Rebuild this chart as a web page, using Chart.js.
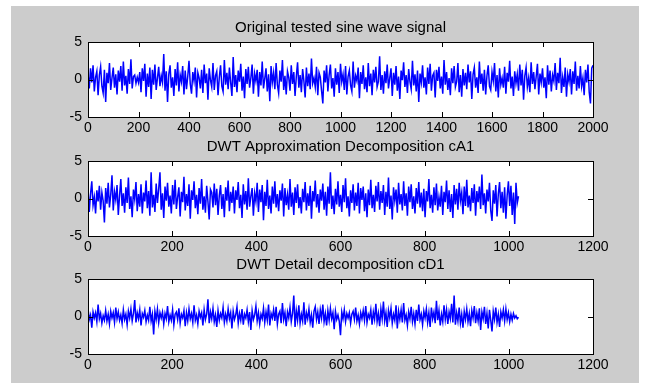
<!DOCTYPE html>
<html>
<head>
<meta charset="utf-8">
<script src="https://cdn.jsdelivr.net/npm/chart.js@4/dist/chart.umd.min.js"></script>
<style>
  body { margin: 0; background: #fff; }
  #fig { position: absolute; left: 11px; top: 6px; width: 628px; height: 377px; background: #cccccc; }
  canvas { position: absolute; left: 0; }
</style>
</head>
<body>
<div id="fig"></div>
<canvas id="c1" width="645" height="140" style="top:2px"></canvas>
<canvas id="c2" width="645" height="140" style="top:121px"></canvas>
<canvas id="c3" width="645" height="140" style="top:239px"></canvas>
<script>
'use strict';

// titles of the three subplots
let titles = ['Original tested sine wave signal', 'DWT Approximation Decomposition cA1', 'DWT Detail decomposition cD1'];

// axis ticks
let xTicksTop = [0, 200, 400, 600, 800, 1000, 1200, 1400, 1600, 1800, 2000];
let xTicksDwt = [0, 200, 400, 600, 800, 1000, 1200];
let yTicks = [-5, 0, 5];

// sample spacing used when reading the traces off the picture
let stepTop = 5;
let stepDwt = 3;

// original signal, read every 5 samples (0..2000)
let signal = [
  0.8, -1.2, 1.5, -0.4, 1.9, -1.6, 0.3, 1.1, -2.1, 0.6,
  1.7, -0.9, -1.8, 1.3, -3.0, 0.9, -0.5, 2.2, -1.4, 0.2,
  1.6, -1.1, 0.7, -2.0, 1.2, -0.3, 1.8, -1.5, 2.4, -0.8,
  0.5, -1.9, 1.4, -0.6, 2.7, -1.2, 0.4, 0.6, -0.5, 0.3,
  -0.4, 1.0, -1.7, 1.5, -0.2, 2.1, -2.3, 0.8, -1.0, 1.6,
  -2.6, 1.3, -0.7, 2.0, -1.4, 0.2, 1.7, -0.9, 0.5, -0.4,
  3.4, -1.5, 1.1, -3.0, 0.7, 1.9, -1.1, 0.3, -2.2, 1.4,
  -0.8, 2.3, -1.6, 0.6, -0.3, 1.8, -2.0, 1.2, -1.3, 0.4,
  2.5, -0.6, -1.9, 1.0, -0.2, 1.6, -2.4, 0.9, 0.2, -1.2,
  1.3, -1.8, 2.0, -0.5, 0.8, -2.7, 1.5, -0.1, -1.0, 2.2,
  -1.4, 0.5, 1.1, -2.1, 0.3, 1.9, -0.9, -1.6, 2.6, -0.7,
  0.9, -1.3, 1.6, -0.4, -2.2, 3.0, -1.0, 0.6, -1.7, 1.2,
  -0.3, 2.1, -1.5, 0.4, -2.5, 1.4, -0.6, 1.7, -1.1, 0.2,
  2.0, -1.9, 0.8, -0.2, 1.3, -2.3, 1.0, -0.8, 2.4, -1.2,
  0.1, 1.5, -1.6, 0.7, -2.9, 1.8, -0.4, 0.9, -1.3, 2.2,
  -0.7, -1.8, 1.2, -0.3, 2.6, -1.4, 0.5, -2.0, 1.1, 0.3,
  -1.5, 1.9, -0.6, 1.0, -2.2, 0.4, 2.3, -1.1, 0.6, -1.7,
  1.4, -0.2, -2.4, 1.6, -0.9, 0.8, -1.3, 2.8, -0.5, 0.2,
  -1.0, 1.7, -2.1, 0.9, 0.3, -1.5, -3.2, 1.2, -0.4, 1.9,
  -1.6, 0.6, 2.0, -1.2, 0.2, -2.3, 1.5, -0.7, 1.0, -1.8,
  2.1, -0.3, 0.7, -1.4, 1.8, -2.0, 0.4, 1.2, -0.8, -1.6,
  2.4, -1.1, 0.5, -0.2, 1.6, -2.5, 1.0, -0.6, 1.9, -1.3,
  0.3, -1.7, 2.2, -0.9, 0.8, -2.1, 1.3, -0.4, 1.7, -1.0,
  -0.3, 3.1, -1.4, 0.6, -1.9, 1.1, -0.5, 2.0, -1.2, 0.2,
  1.5, -2.2, 0.9, -0.7, 1.8, -1.5, 0.4, -2.6, 1.2, -0.1,
  2.3, -1.0, 0.6, -1.8, 1.4, -0.3, -1.3, 2.5, -0.8, 0.7,
  -1.6, 1.2, -3.0, 0.8, -0.4, 1.9, -1.1, 0.3, -2.0, 1.6,
  -0.6, 2.1, -1.5, 0.5, 0.9, -2.4, 1.3, -0.2, 1.7, -1.2,
  0.4, -1.9, 2.6, -0.7, 1.0, -1.4, 0.2, -2.1, 1.5, -0.5,
  1.8, -1.0, -0.3, 2.2, -1.7, 0.6, -2.3, 1.4, -0.8, 0.9,
  -1.3, 2.0, -0.4, 1.1, -2.6, 0.7, 1.6, -1.1, 0.3, -1.8,
  2.4, -0.6, 0.8, -1.5, 1.3, -2.0, 0.5, 1.9, -0.9, -1.4,
  1.0, -0.2, 2.2, -1.6, 0.6, -2.4, 1.5, -0.7, 0.2, -1.1,
  1.7, -1.9, 0.9, -0.3, 2.5, -1.2, 0.4, -2.2, 1.1, -0.5,
  0.7, -1.5, 2.0, -0.8, 1.3, -2.7, 0.5, 1.6, -1.0, 0.2,
  -1.7, 2.3, -0.6, 1.0, -1.3, 0.4, 2.1, -2.0, 0.8, -0.4,
  1.5, -1.1, 0.3, -2.5, 1.9, -0.7, 1.2, -1.6, 0.6, -0.2,
  2.2, -1.4, 0.9, -0.5, 2.9, -1.8, 0.3, -1.0, 1.6, -2.3,
  0.7, -0.3, 1.4, -2.0, 1.1, -0.6, 2.4, -1.5, 0.5, -1.2,
  1.8, -0.9, 0.2, -2.1, 1.3, -0.4, 2.0, -1.7, -3.2, 1.5,
  1.9
];

// approximation coefficients cA1, read every 3 samples (0..1023)
let cA1 = [
  1.3, -1.8, 0.6, 2.3, -0.9, 0.2, -2.0, 1.1, -0.4, 1.7,
  -1.5, 0.8, -0.3, -3.2, 1.4, -0.7, 2.1, -1.2, 0.5, 3.1,
  -1.6, 0.9, -0.2, 1.8, -2.2, 0.4, 2.6, -1.0, 0.7, -1.9,
  1.5, -0.6, 2.8, -1.4, 0.3, -2.5, 1.2, -0.1, 2.2, -1.7,
  0.6, -1.1, 1.9, -2.0, 0.8, -0.4, 2.4, -1.3, 1.0, -2.3,
  3.5, -1.2, 0.5, -1.8, 2.0, -0.6, 1.3, 3.5, -1.5, 0.7,
  -2.6, 1.6, -0.3, 2.1, -1.1, 0.4, -2.0, 1.8, -0.8, 2.5,
  -1.4, 0.2, 1.5, -2.4, 0.9, -0.5, 2.9, -1.6, 0.6, -1.0,
  1.9, -2.7, 1.1, -0.2, 2.3, -1.3, 0.5, -2.1, 1.4, -0.7,
  2.6, -1.5, 0.3, -1.9, 1.7, -0.4, -2.8, 1.2, 0.8, -1.2,
  2.0, -0.9, 1.3, -2.2, 0.4, 1.8, -1.4, 0.6, -2.5, 1.5,
  -0.3, 2.4, -1.7, 0.9, -0.6, 1.6, -2.0, 1.1, -0.2, 2.2,
  -1.3, 0.5, -2.6, 1.9, -0.8, 1.0, -1.5, 2.7, -1.1, 0.3,
  1.4, -2.3, 0.7, -0.4, 2.1, -1.8, 1.2, -0.5, 1.8, -2.9,
  0.9, -1.0, 2.5, -1.4, 0.4, -2.0, 1.6, -0.7, 2.3, -1.2,
  0.6, -1.7, 1.1, -0.3, 2.0, -2.4, 1.4, -0.9, 0.5, -1.5,
  2.6, -1.1, 0.8, -2.2, 1.5, -0.6, 1.9, -1.3, 0.2, -2.0,
  1.3, -0.5, 2.2, -1.6, 0.7, -1.0, 1.7, -2.7, 1.0, -0.4,
  2.4, -1.2, 0.6, -1.9, 1.2, -0.3, 2.0, -1.5, 0.9, -2.3,
  1.6, -0.7, 3.5, -1.4, 0.4, -2.1, 1.3, -0.8, 2.3, -1.1,
  0.5, -1.8, 1.8, -0.5, 2.7, -1.3, 0.3, -2.4, 1.1, -0.6,
  1.9, -1.6, 0.8, -1.0, 2.1, -2.0, 1.4, -0.2, 1.6, -1.7,
  0.7, -2.5, 1.2, -0.9, 2.5, -1.3, 0.5, -1.8, 1.7, -0.4,
  2.2, -1.5, 1.0, -0.6, 1.8, -2.2, 0.9, -1.1, 2.8, -1.4,
  0.4, -2.8, 1.5, -0.3, 1.2, -1.9, 2.1, -0.8, 0.6, -1.6,
  2.3, -1.0, 0.7, -2.3, 1.6, -0.5, 1.9, -1.4, 0.3, -2.0,
  1.4, -0.7, 2.2, -1.2, 0.8, -1.7, 1.3, -2.5, 1.0, -0.4,
  2.6, -1.3, 0.5, -1.9, 1.5, -0.9, 2.0, -1.6, 0.2, -1.1,
  1.7, -2.2, 0.9, -0.5, 2.4, -1.4, 1.1, -1.8, 0.6, -2.6,
  1.8, -0.8, 1.3, -1.5, 2.1, -0.3, 0.8, -2.1, 1.6, -1.0,
  2.5, -1.2, 0.4, -1.7, 1.4, -0.6, 1.9, -2.3, 1.0, -0.5,
  1.6, -1.4, 3.2, -0.9, 0.7, -2.0, 1.2, -0.4, 2.1, -1.6,
  -3.0, 1.1, -0.7, 1.8, -2.4, 0.6, 2.2, -1.3, 0.9, -1.9,
  1.5, -2.7, 0.4, 2.3, -1.0, 1.7, -2.2, 0.8, -3.4, 2.1,
  -0.6, 0.3
];

// detail coefficients cD1, read every 3 samples (0..1023)
let cD1 = [
  1.1, -0.4, 0.2, -1.5, 0.6, -0.2, 0.5, -0.7, 1.6, -0.3,
  0.4, -0.9, 0.1, -0.5, 0.8, -0.6, 0.3, -1.0, 0.7, -0.2,
  0.5, -0.8, 1.2, -0.3, 0.6, -0.5, 0.2, -0.9, 0.9, -0.4,
  0.3, -1.1, 0.7, -0.2, 1.0, -0.6, 0.4, 2.2, -0.8, 0.5,
  -0.3, 0.9, -1.2, 0.4, -0.1, 0.8, -0.7, 0.2, -0.5, 1.3,
  -0.6, 0.3, -2.4, 0.7, -0.4, 1.0, -0.8, 0.5, -0.2, 0.6,
  -1.0, 0.4, -0.3, 1.4, -0.7, 0.2, -0.5, 0.9, -1.1, 0.3,
  0.6, -0.4, 1.1, -0.9, 0.3, -0.2, 0.8, -1.3, 0.5, -0.6,
  1.0, -0.3, 0.4, -0.8, 1.5, -0.5, 0.2, -1.0, 0.7, -0.1,
  0.5, -1.2, 0.9, -0.4, 0.3, 2.3, -0.9, 0.6, -0.3, 1.1,
  -0.7, 0.2, -1.4, 0.8, -0.5, 0.4, -0.2, 1.2, -0.8, 0.3,
  -0.6, 1.0, -0.3, 0.5, -1.6, 0.7, -0.4, 0.2, 1.3, -0.9,
  0.4, -0.5, 1.0, -1.1, 0.3, -0.2, 0.9, -0.7, 0.6, -1.8,
  0.8, -0.4, 0.2, 1.4, -0.6, 0.5, -1.0, 0.3, -0.3, 1.1,
  -0.8, 0.6, -0.5, 1.6, -1.2, 0.4, -0.2, 0.9, -0.6, 1.3,
  -1.0, 0.3, 0.7, -0.9, 1.8, -0.4, 0.5, -1.3, 0.6, -0.2,
  1.2, -0.7, 0.4, 2.8, -1.4, 0.8, -0.5, 1.5, -0.9, 0.3,
  -0.6, 1.9, -1.1, 0.5, -0.3, 1.0, -0.8, 0.2, -1.5, 0.7,
  1.3, -0.4, 0.6, -1.0, 0.9, -0.2, 1.6, -0.7, 0.4, -1.2,
  0.8, -0.5, 1.1, -0.3, 0.5, -1.7, 0.7, -0.4, 0.2, -0.6,
  -2.5, 0.6, -0.3, 0.9, -0.7, 0.4, -0.2, 0.5, -0.9, 0.3,
  0.7, -0.4, 1.2, -0.6, 0.2, -1.0, 0.5, -0.3, 0.8, -0.5,
  1.4, -0.8, 0.3, -0.2, 0.9, -1.1, 0.6, -0.4, 1.7, -0.7,
  0.4, -1.3, 1.0, -0.3, 2.0, -0.6, 0.5, -1.4, 0.8, -0.2,
  1.1, -0.9, 0.3, -0.5, 1.5, -1.6, 0.7, -0.4, 0.9, -0.8,
  1.8, -0.5, 0.2, -1.2, 0.6, -0.3, 1.3, -0.7, 0.4, -1.0,
  0.9, -0.6, 1.6, -0.4, 0.3, -1.1, 0.7, -0.2, 1.0, -0.8,
  0.5, -1.4, 1.2, -0.3, 0.6, -0.9, 2.1, -0.5, 0.8, -1.2,
  0.3, -0.7, 1.5, -0.4, 0.9, -1.0, 0.6, -0.3, 1.7, -0.8,
  2.8, -1.1, 0.5, -0.6, 1.2, -0.9, 0.3, -1.5, 0.7, -0.4,
  1.0, -0.7, 0.4, -1.3, 0.8, -0.2, 1.4, -0.9, 0.5, -0.6,
  1.1, -1.8, 0.6, -0.3, 1.3, -1.0, 0.4, -1.6, 0.9, -0.5,
  -2.0, 0.7, -0.4, 1.2, -0.8, 0.3, -1.4, 0.6, -0.2, 0.9,
  -0.6, 1.0, -0.4, 0.5, -0.7, 0.3, -0.5, 0.4, -0.2, 0.1,
  -0.3, -0.1
];

let fontFamily = '"Liberation Sans", Arial, Helvetica, sans-serif';

function toPoints(values, step) {
  let pts = [];
  for (let i = 0; i < values.length; i++) {
    pts.push({ x: i * step, y: values[i] });
  }
  return pts;
}

// white axes area, title, box and inward ticks like a matlab subplot
const matlabAxes = {
  id: 'matlabAxes',
  beforeDraw(chart, args, opts) {
    let a = chart.chartArea;
    let ctx = chart.ctx;
    ctx.save();
    ctx.fillStyle = '#ffffff';
    ctx.fillRect(a.left, a.top, a.right - a.left, a.bottom - a.top);
    ctx.fillStyle = '#000000';
    ctx.font = '15px ' + fontFamily;
    ctx.textAlign = 'center';
    ctx.textBaseline = 'middle';
    ctx.fillText(opts.title, (a.left + a.right) / 2, a.top - 14);
    ctx.restore();
  },
  afterDatasetsDraw(chart) {
    let a = chart.chartArea;
    let ctx = chart.ctx;
    let xs = chart.scales.x;
    let ys = chart.scales.y;
    let len = 5;
    ctx.save();
    ctx.strokeStyle = '#000000';
    ctx.lineWidth = 1;
    ctx.beginPath();
    xs.ticks.forEach(t => {
      let px = Math.round(xs.getPixelForValue(t.value)) + 0.5;
      ctx.moveTo(px, a.bottom); ctx.lineTo(px, a.bottom - len);
      ctx.moveTo(px, a.top); ctx.lineTo(px, a.top + len);
    });
    ys.ticks.forEach(t => {
      let py = Math.round(ys.getPixelForValue(t.value)) + 0.5;
      ctx.moveTo(a.left, py); ctx.lineTo(a.left + len, py);
      ctx.moveTo(a.right, py); ctx.lineTo(a.right - len, py);
    });
    ctx.stroke();
    ctx.strokeRect(Math.round(a.left) + 0.5, Math.round(a.top) + 0.5,
      Math.round(a.right - a.left), Math.round(a.bottom - a.top));
    ctx.restore();
  }
};

function renderSubplot(canvasId, title, values, step, xTicks) {
  let chartObj = {
    type: 'line',
    data: {
      datasets: [{
        data: toPoints(values, step),
        borderColor: '#0000ff',
        borderWidth: 1.5,
        pointRadius: 0,
        tension: 0
      }]
    },
    options: {
      responsive: false,
      animation: false,
      events: [],
      layout: { padding: { top: 40, left: 0, right: 52, bottom: 5 } },
      plugins: {
        legend: { display: false },
        tooltip: { enabled: false },
        matlabAxes: { title: title }
      },
      scales: {
        x: {
          type: 'linear',
          min: xTicks[0],
          max: xTicks[xTicks.length - 1],
          afterBuildTicks: scale => { scale.ticks = xTicks.map(v => ({ value: v })); },
          afterFit: scale => { scale.height = 20; },
          grid: { display: false, drawTicks: false },
          border: { display: false },
          ticks: {
            color: '#000000',
            font: { family: fontFamily, size: 14 },
            padding: 3,
            maxRotation: 0,
            autoSkip: false,
            callback: v => String(v)
          }
        },
        y: {
          min: yTicks[0],
          max: yTicks[yTicks.length - 1],
          afterBuildTicks: scale => { scale.ticks = yTicks.map(v => ({ value: v })); },
          afterFit: scale => { scale.width = 88; },
          grid: { display: false, drawTicks: false },
          border: { display: false },
          ticks: {
            color: '#000000',
            font: { family: fontFamily, size: 14 },
            padding: 6,
            callback: v => String(v)
          }
        }
      }
    },
    plugins: [matlabAxes]
  };
  new Chart(document.getElementById(canvasId), chartObj);
}

renderSubplot('c1', titles[0], signal, stepTop, xTicksTop);
renderSubplot('c2', titles[1], cA1, stepDwt, xTicksDwt);
renderSubplot('c3', titles[2], cD1, stepDwt, xTicksDwt);
</script>
</body>
</html>
